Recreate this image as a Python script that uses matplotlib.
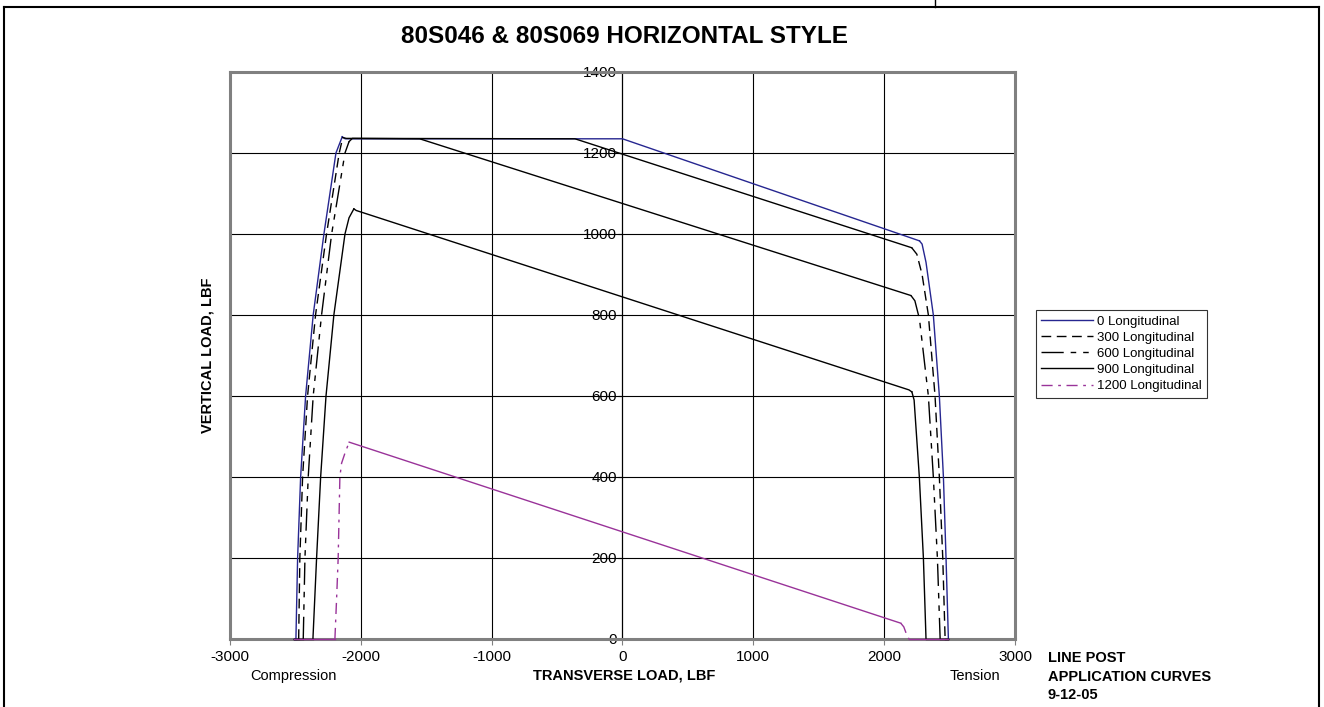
import matplotlib
matplotlib.use('Agg')
import matplotlib.pyplot as plt
from matplotlib.lines import Line2D
import numpy as np

plt.rcParams['font.family'] = ['Liberation Sans', 'DejaVu Sans']
plt.rcParams['axes.unicode_minus'] = False

# data (transverse load, vertical load)
x_0 = [-2510, -2496, -2483, -2460, -2422, -2364, -2282, -2190, -2142, -2120, 0,
       2270, 2290, 2320, 2376, 2422, 2453, 2473, 2491]
y_0 = [0, 0, 200, 400, 600, 800, 1000, 1200, 1240, 1235, 1235,
       983, 975, 930, 800, 600, 400, 200, 0]

x_300 = [-2510, -2475, -2466, -2445, -2407, -2346, -2262, -2165, -2138, -2110, -363,
         2211, 2250, 2290, 2338, 2389, 2422, 2448, 2466, 2491]
y_300 = [0, 0, 200, 400, 600, 800, 1000, 1200, 1238, 1236, 1235,
         966, 950, 900, 800, 600, 400, 200, 0, 0]

x_600 = [-2510, -2440, -2427, -2402, -2364, -2300, -2223, -2121, -2090, -2065, -1550,
         2205, 2235, 2270, 2338, 2376, 2407, 2428, 2491]
y_600 = [0, 0, 200, 400, 600, 800, 1000, 1200, 1228, 1236, 1235,
         848, 835, 790, 600, 400, 200, 0, 0]

x_900 = [-2510, -2366, -2338, -2307, -2266, -2206, -2121, -2090, -2053, -2035,
         2190, 2212, 2229, 2269, 2300, 2320, 2491]
y_900 = [0, 0, 200, 400, 600, 800, 1000, 1040, 1062, 1058,
         615, 610, 590, 400, 200, 0, 0]

x_1200 = [-2510, -2198, -2185, -2173, -2160, -2147, -2121, -2089,
          2127, 2150, 2173, 2190, 2491]
y_1200 = [0, 0, 100, 200, 400, 434, 459, 486,
          39, 30, 10, 0, 0]

labels = ['0 Longitudinal', '300 Longitudinal', '600 Longitudinal',
          '900 Longitudinal', '1200 Longitudinal']
xs = [x_0, x_300, x_600, x_900, x_1200]
ys = [y_0, y_300, y_600, y_900, y_1200]
colors = ['#262690', 'black', 'black', 'black', '#993399']
dashes = ['-', (0, (7, 4)), (0, (16, 5, 4, 5, 4, 5)), '-', (0, (8, 4, 2, 4))]

x_ticks = [-3000, -2000, -1000, 0, 1000, 2000, 3000]
y_ticks = [0, 200, 400, 600, 800, 1000, 1200, 1400]

fig = plt.figure(figsize=(13.24, 7.07), dpi=100)
ax = fig.add_axes([0.1737, 0.0962, 0.5929, 0.802])
ax.set_xlim(-3000, 3000)
ax.set_ylim(0, 1400)

# grid
for v in [-2000, -1000, 1000, 2000]:
    ax.axvline(v, color='black', lw=0.8, zorder=1)
for v in y_ticks[1:-1]:
    ax.axhline(v, color='black', lw=0.8, zorder=1)

# curves: steep parts keep the dash pattern, long shallow runs look solid (as in Excel)
for x, y, c, ls in zip(xs, ys, colors, dashes):
    pts = ax.transData.transform(np.column_stack([x, y]))
    d = np.diff(pts, axis=0)
    steep = np.abs(d[:, 1]) > np.abs(d[:, 0])
    i = 0
    while i < len(steep):
        j = i
        while j + 1 < len(steep) and steep[j + 1] == steep[i]:
            j += 1
        style = ls if steep[i] else '-'
        ax.plot(x[i:j + 2], y[i:j + 2], color=c, lw=1.0, linestyle=style,
                zorder=3, clip_on=False)
        i = j + 1

# frame and axes
for s in ['top', 'right', 'bottom']:
    ax.spines[s].set_color('#808080')
    ax.spines[s].set_linewidth(2.2)
ax.spines['left'].set_position(('data', 0))
ax.spines['left'].set_color('black')
ax.spines['left'].set_linewidth(0.9)
ax.axvline(-3000, color='#808080', lw=2.2, clip_on=False, zorder=2)

ax.set_xticks(x_ticks)
ax.set_yticks(y_ticks)
ax.tick_params(axis='x', direction='out', length=4, width=0.8, labelsize=11,
               pad=4, color='#808080')
ax.tick_params(axis='y', direction='out', length=3, width=0.8, labelsize=11,
               pad=1)

fig.text(0.4713, 0.949, '80S046 & 80S069 HORIZONTAL STYLE', ha='center',
         va='center', fontsize=17.5, fontweight='bold')
fig.text(0.4713, 0.044, 'TRANSVERSE LOAD, LBF', ha='center', va='center',
         fontsize=10.5, fontweight='bold')
fig.text(0.157, 0.498, 'VERTICAL LOAD, LBF', ha='center', va='center',
         rotation=90, fontsize=10.5, fontweight='bold')
fig.text(0.2213, 0.044, 'Compression', ha='center', va='center', fontsize=10.5)
fig.text(0.7364, 0.044, 'Tension', ha='center', va='center', fontsize=10.5)
fig.text(0.7915, 0.043, 'LINE POST\nAPPLICATION CURVES\n9-12-05', ha='left',
         va='center', fontsize=10.5, fontweight='bold', linespacing=1.38)

handles = [Line2D([], [], color=c, lw=1.0, linestyle=ls)
           for c, ls in zip(colors, dashes)]
leg = fig.legend(handles, labels, loc='upper left',
                 bbox_to_anchor=(0.7825, 0.5615), fontsize=9.5, frameon=True,
                 fancybox=False, handlelength=3.9, handletextpad=0.3,
                 labelspacing=0.3, borderpad=0.4, borderaxespad=0)
leg.get_frame().set_edgecolor('black')
leg.get_frame().set_linewidth(0.8)

# outer page frame
fig.add_artist(Line2D([0.003, 0.9962], [0.990, 0.990], color='black', lw=1.5,
                      transform=fig.transFigure))
fig.add_artist(Line2D([0.003, 0.003], [0.0, 0.990], color='black', lw=1.5,
                      transform=fig.transFigure))
fig.add_artist(Line2D([0.9962, 0.9962], [0.0, 0.990], color='black', lw=1.5,
                      transform=fig.transFigure))
fig.add_artist(Line2D([0.706, 0.706], [0.990, 1.0], color='black', lw=1.0,
                      transform=fig.transFigure))

fig.savefig('out.png', dpi=100)
